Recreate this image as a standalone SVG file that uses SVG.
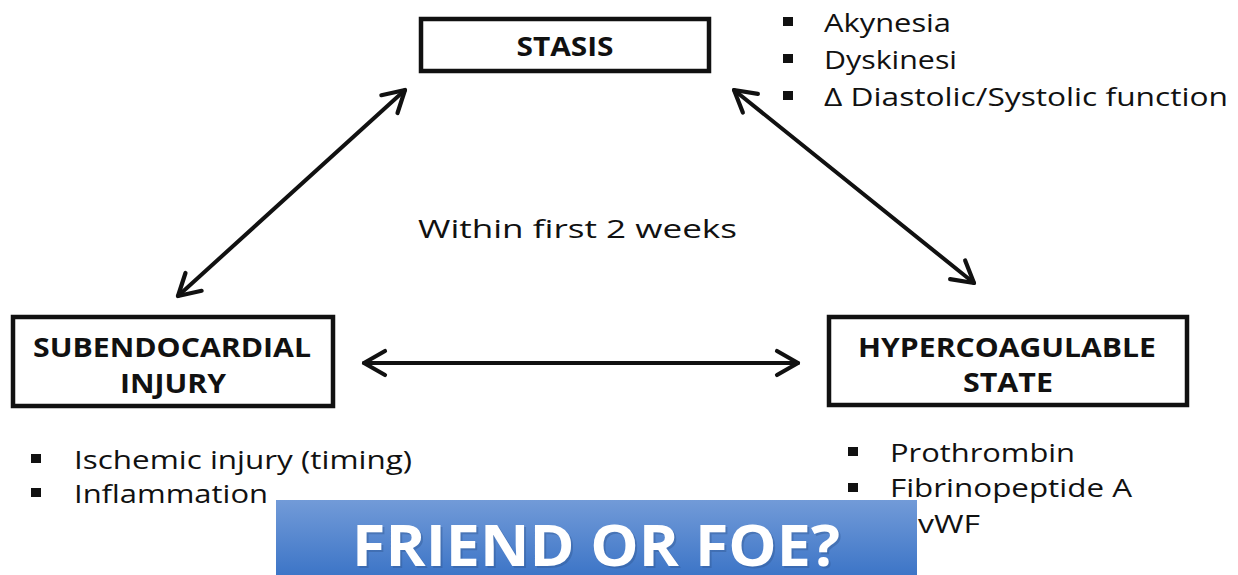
<svg xmlns="http://www.w3.org/2000/svg" width="1238" height="575" viewBox="0 0 1238 575">
<defs>
<style>
.box{fill:#fff;stroke:#111;stroke-width:4.5}
.bt{font-family:"Open Sans","Liberation Sans",sans-serif;font-weight:bold;font-size:27px;fill:#111;text-anchor:middle}
.t{font-family:"Open Sans","Liberation Sans",sans-serif;font-size:26px;fill:#111}
.bul{fill:#111}
.con{stroke:#111;stroke-width:4;fill:none;stroke-linecap:round}
.ff{font-family:"Open Sans","Liberation Sans",sans-serif;font-weight:bold;font-size:57px;text-anchor:middle}
</style>
<linearGradient id="blue" x1="0" y1="0" x2="0" y2="1">
<stop offset="0" stop-color="#729bd8"/>
<stop offset="1" stop-color="#3d75c7"/>
</linearGradient>
<marker id="arr" viewBox="0 0 10 10" refX="9" refY="5" markerWidth="7.5" markerHeight="7.5" markerUnits="strokeWidth" orient="auto-start-reverse">
<path d="M2,1 L9,5 L2,9" fill="none" stroke="#111" stroke-width="1.4" stroke-linecap="round" stroke-linejoin="round"/>
</marker>
</defs>
<rect width="1238" height="575" fill="#fff"/>

<g id="connectors">
<line class="con" x1="178" y1="296" x2="405" y2="90" marker-start="url(#arr)" marker-end="url(#arr)"/>
<line class="con" x1="734" y1="90" x2="974" y2="283" marker-start="url(#arr)" marker-end="url(#arr)"/>
<line class="con" x1="364" y1="363" x2="798" y2="363" marker-start="url(#arr)" marker-end="url(#arr)"/>
</g>

<g id="stasis">
<rect class="box" x="421" y="19" width="288" height="52"/>
<text class="bt" x="565" y="56" textLength="97" lengthAdjust="spacingAndGlyphs">STASIS</text>
</g>

<g id="subendocardial">
<rect class="box" x="13" y="317" width="320" height="89"/>
<text class="bt" x="172" y="357" textLength="278" lengthAdjust="spacingAndGlyphs">SUBENDOCARDIAL</text>
<text class="bt" x="173" y="393" textLength="106" lengthAdjust="spacingAndGlyphs">INJURY</text>
</g>

<g id="hypercoagulable">
<rect class="box" x="829" y="317" width="358" height="88"/>
<text class="bt" x="1007" y="357" textLength="298" lengthAdjust="spacingAndGlyphs">HYPERCOAGULABLE</text>
<text class="bt" x="1008" y="392" textLength="90" lengthAdjust="spacingAndGlyphs">STATE</text>
</g>

<g id="within">
<text class="t" x="418" y="238" font-size="30" textLength="319" lengthAdjust="spacingAndGlyphs">Within first 2 weeks</text>
</g>

<g id="stasis-list">
<rect class="bul" x="783" y="17" width="10" height="9"/>
<text class="t" x="824" y="32" textLength="127" lengthAdjust="spacingAndGlyphs">Akynesia</text>
<rect class="bul" x="783" y="54" width="10" height="9"/>
<text class="t" x="824" y="69" textLength="133" lengthAdjust="spacingAndGlyphs">Dyskinesi</text>
<rect class="bul" x="783" y="91" width="10" height="9"/>
<text class="t" x="824" y="106" textLength="404" lengthAdjust="spacingAndGlyphs">Δ Diastolic/Systolic function</text>
</g>

<g id="injury-list">
<rect class="bul" x="31" y="454" width="10" height="9"/>
<text class="t" x="74" y="469" textLength="338" lengthAdjust="spacingAndGlyphs">Ischemic injury (timing)</text>
<rect class="bul" x="31" y="488" width="10" height="9"/>
<text class="t" x="74" y="503" textLength="194" lengthAdjust="spacingAndGlyphs">Inflammation</text>
</g>

<g id="hyper-list">
<rect class="bul" x="848" y="447" width="10" height="9"/>
<text class="t" x="890" y="462" textLength="185" lengthAdjust="spacingAndGlyphs">Prothrombin</text>
<rect class="bul" x="848" y="483" width="10" height="9"/>
<text class="t" x="890" y="497" textLength="242" lengthAdjust="spacingAndGlyphs">Fibrinopeptide A</text>
<rect class="bul" x="848" y="518" width="10" height="9"/>
<text class="t" x="918" y="533" textLength="62" lengthAdjust="spacingAndGlyphs">vWF</text>
</g>

<g id="friend-or-foe">
<rect x="276" y="500" width="641" height="75" fill="url(#blue)"/>
<text class="ff" x="598" y="568" fill="#2f5690" opacity="0.4" textLength="488" lengthAdjust="spacingAndGlyphs">FRIEND OR FOE?</text>
<text class="ff" x="596" y="566" fill="#fff" textLength="488" lengthAdjust="spacingAndGlyphs">FRIEND OR FOE?</text>
</g>
</svg>
